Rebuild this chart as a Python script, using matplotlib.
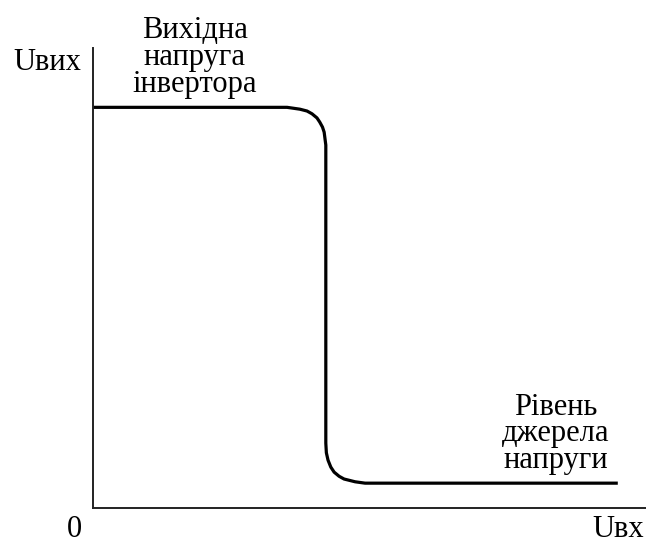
import matplotlib
matplotlib.use("Agg")
import matplotlib.pyplot as plt

# transfer characteristic of the inverter (arbitrary units 0..10)
u_in = [0.0, 3.51, 3.74, 3.87, 3.96, 4.05, 4.10, 4.15, 4.18, 4.21, 4.21, 4.22, 4.25, 4.30, 4.36, 4.45, 4.54, 4.74, 4.92, 9.49]
u_out = [8.71, 8.71, 8.67, 8.63, 8.57, 8.48, 8.39, 8.28, 8.17, 7.89, 1.41, 1.20, 1.04, 0.89, 0.78, 0.69, 0.63, 0.57, 0.54, 0.54]

top_label = ["Вихідна", "напруга", "інвертора"]
bottom_label = ["Рівень", "джерела", "напруги"]
y_label = "Uвих"
x_label = "Uвх"
origin_label = "0"

plt.rcParams['font.family'] = ['Liberation Serif', 'DejaVu Serif']

fig = plt.figure(figsize=(6.46, 5.44), dpi=100)
W, H = 646.0, 544.0
ax = fig.add_axes([93 / W, (H - 508) / H, (W - 93) / W, (508 - 48) / H])

ax.plot(u_in, u_out, color='black', lw=2.3, solid_capstyle='butt', solid_joinstyle='round')

ax.set_xlim(0, 10)
ax.set_ylim(0, 10)
ax.set_xticks([])
ax.set_yticks([])
for s in ['top', 'right']:
    ax.spines[s].set_visible(False)
for s in ['left', 'bottom']:
    ax.spines[s].set_linewidth(1.4)
    ax.spines[s].set_color('#222222')

fs = 22
for i, line in enumerate(top_label):
    ax.text(1.84, 10.22 - 0.59 * i, line, ha='center', va='baseline', fontsize=fs, clip_on=False)
for i, line in enumerate(bottom_label):
    ax.text(8.37, 2.02 - 0.57 * i, line, ha='center', va='baseline', fontsize=fs, clip_on=False)

ax.text(-0.83, 9.52, y_label, ha='center', va='baseline', fontsize=fs, clip_on=False)
ax.text(-0.33, -0.62, origin_label, ha='center', va='baseline', fontsize=fs, clip_on=False)
ax.text(9.50, -0.62, x_label, ha='center', va='baseline', fontsize=fs, clip_on=False)

fig.savefig("out.png", dpi=100)
